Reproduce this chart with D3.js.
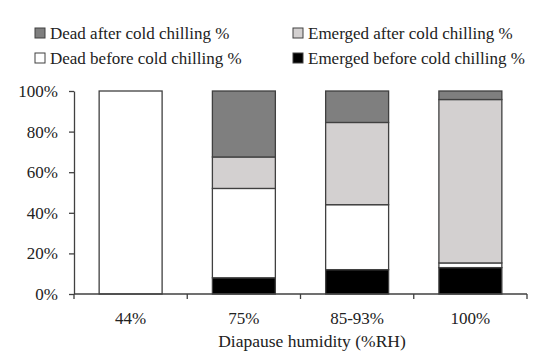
<!DOCTYPE html>
<html>
<head>
<meta charset="utf-8">
<script src="https://cdn.jsdelivr.net/npm/d3@7"></script>
<style>
  body { margin: 0; background: #fff; }
  svg text { font-family: "Palatino Linotype", "Book Antiqua", Palatino, "Liberation Serif", serif; fill: #222; }
</style>
</head>
<body>
<div id="chart"></div>
<script>
const categories = ["44%", "75%", "85-93%", "100%"];
const emergedBefore = [0, 8, 12, 13];
const deadBefore = [100, 44, 32, 2.3];
const emergedAfter = [0, 15.5, 40.5, 80.5];
const deadAfter = [0, 32.5, 15.5, 4.2];
const yTicks = [0, 20, 40, 60, 80, 100];

const seriesNames = ["Emerged before cold chilling %", "Dead before cold chilling %",
    "Emerged after cold chilling %", "Dead after cold chilling %"];
const seriesValues = [emergedBefore, deadBefore, emergedAfter, deadAfter];
const seriesColors = ["#000000", "#ffffff", "#d3d0d0", "#7f7f7f"];

const width = 550, height = 359;
const margin = { left: 74, right: 23, top: 91, bottom: 65 };

const svg = d3.select("#chart").append("svg")
    .attr("width", width)
    .attr("height", height);

const x = d3.scaleBand()
    .domain(categories)
    .range([margin.left, width - margin.right])
    .paddingInner(0.444)
    .paddingOuter(0.222);

const y = d3.scaleLinear()
    .domain([0, 100])
    .range([height - margin.bottom, margin.top]);

// stack the series
const rows = categories.map((c, i) => {
    const r = { cat: c };
    seriesNames.forEach((s, j) => r[s] = seriesValues[j][i]);
    return r;
});
const stacked = d3.stack().keys(seriesNames)(rows);

const g = svg.append("g");
stacked.forEach((layer, j) => {
    g.selectAll(".bar" + j)
        .data(layer.filter(d => d[1] - d[0] > 0))
        .enter()
        .append("rect")
        .attr("x", d => x(d.data.cat))
        .attr("y", d => y(d[1]))
        .attr("width", x.bandwidth())
        .attr("height", d => y(d[0]) - y(d[1]))
        .attr("fill", seriesColors[j])
        .attr("stroke", "#404040")
        .attr("stroke-width", 1.3);
});

// y axis
const yAxis = svg.append("g")
    .attr("transform", `translate(${margin.left},0)`)
    .call(d3.axisLeft(y).tickValues(yTicks).tickFormat(d => d + "%").tickSize(5).tickSizeOuter(0));
yAxis.select(".domain").attr("stroke", "#404040").attr("stroke-width", 1.3);
yAxis.selectAll(".tick line").attr("stroke", "#404040").attr("stroke-width", 1.3);
yAxis.selectAll("text").attr("font-size", 17).attr("x", -16);

// x axis with ticks at band boundaries
const x0 = margin.left, x1 = width - margin.right;
const step = x.step();
const boundaries = d3.range(categories.length + 1).map(i => x(categories[0]) - step * x.paddingOuter() + i * step);
const xa = svg.append("g");
xa.append("line")
    .attr("x1", x0).attr("x2", x1)
    .attr("y1", y(0)).attr("y2", y(0))
    .attr("stroke", "#404040").attr("stroke-width", 1.3);
xa.selectAll(".xt").data(boundaries).enter().append("line")
    .attr("x1", d => d).attr("x2", d => d)
    .attr("y1", y(0)).attr("y2", y(0) + 5)
    .attr("stroke", "#404040").attr("stroke-width", 1.3);
xa.selectAll(".xl").data(categories).enter().append("text")
    .attr("x", d => x(d) + x.bandwidth() / 2)
    .attr("y", y(0) + 30)
    .attr("text-anchor", "middle")
    .attr("font-size", 17)
    .text(d => d);

svg.append("text")
    .attr("x", 312)
    .attr("y", y(0) + 53)
    .attr("text-anchor", "middle")
    .attr("font-size", 17.5)
    .text("Diapause humidity (%RH)");

// legend
const legendItems = [
    { name: "Dead after cold chilling %", color: seriesColors[3], lx: 35, ly: 33 },
    { name: "Emerged after cold chilling %", color: seriesColors[2], lx: 293, ly: 33 },
    { name: "Dead before cold chilling %", color: seriesColors[1], lx: 35, ly: 58 },
    { name: "Emerged before cold chilling %", color: seriesColors[0], lx: 293, ly: 58 }
];
const lg = svg.append("g").selectAll("g").data(legendItems).enter().append("g")
    .attr("transform", d => `translate(${d.lx},${d.ly})`);
lg.append("rect")
    .attr("x", 0).attr("y", -5)
    .attr("width", 10).attr("height", 10)
    .attr("fill", d => d.color)
    .attr("stroke", "#404040").attr("stroke-width", 1);
lg.append("text")
    .attr("x", 15).attr("y", 0)
    .attr("dy", "0.35em")
    .attr("font-size", 17)
    .text(d => d.name);
</script>
</body>
</html>
